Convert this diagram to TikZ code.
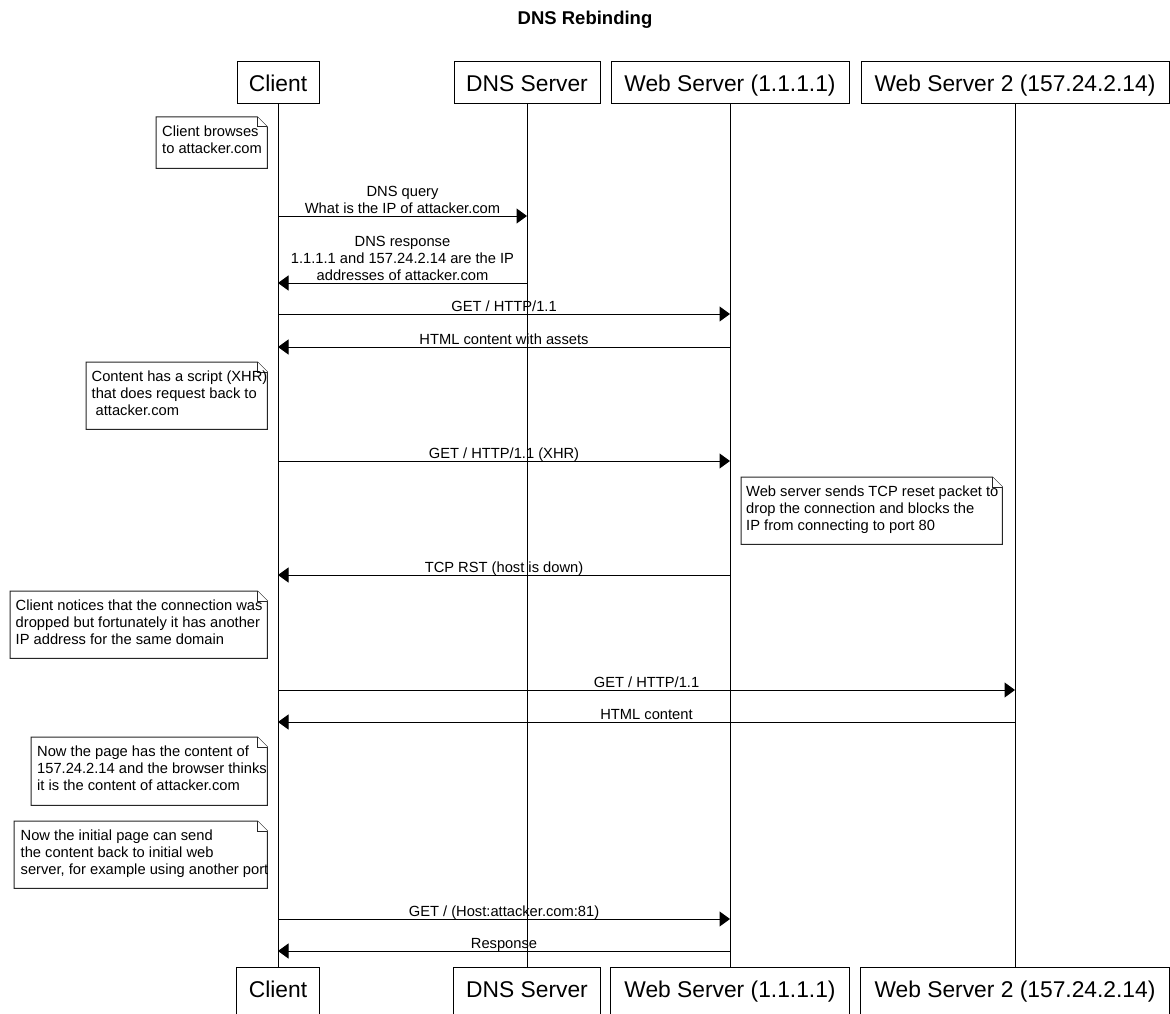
\documentclass[tikz,border=0pt]{standalone}
\usepackage{fontspec}
\setmainfont{Liberation Sans}
\usetikzlibrary{arrows.meta}
\newcommand{\lblfont}{\fontsize{14.7}{17}\selectfont}
\newcommand{\partfont}{\fontsize{22.8}{26}\selectfont}
\newcommand{\ttlfont}{\fontsize{18.5}{21}\selectfont\bfseries}
\newcommand{\notefold}[1]{%
  \draw[noteline] (#1.north west) -- ([xshift=-10pt]#1.north east) -- ([yshift=-10pt]#1.north east) -- (#1.south east) -- (#1.south west) -- cycle;
  \draw[noteline] ([xshift=-10pt]#1.north east) |- ([yshift=-10pt]#1.north east);}
\begin{document}
\begin{tikzpicture}[x=1pt,y=-1pt,
  part/.style={draw=black, line width=1pt, fill=white, inner sep=0pt, minimum height=42pt, text height=19pt, text depth=2.6pt, font=\partfont},
  partb/.style={inner sep=0pt, minimum height=42pt, text height=19pt, text depth=2.6pt, font=\partfont},
  boxline/.style={draw=black, line width=1pt},
  life/.style={draw=black, line width=1pt},
  msg/.style={draw=black, line width=1pt, -{Triangle[length=10.5pt,width=15pt]}},
  lbl/.style={font=\lblfont, inner sep=0pt, align=center, anchor=south, yshift=-2.6pt, execute at end node=\strut},
  notebox/.style={inner sep=0pt, anchor=north west},
  noteline/.style={draw=black!85, line width=1pt, fill=white, line join=miter},
  notetext/.style={font=\lblfont, inner sep=0pt, align=left, anchor=west, execute at begin node=\strut, execute at end node=\strut},
]
\useasboundingbox (0,0) rectangle (1170,1014);
\clip (0,0) rectangle (1170,1014);
\fill[white] (0,0) rectangle (1170,1014);

\node[font=\ttlfont, inner sep=0pt] (title) at (585,20) {DNS Rebinding};

% participants (top)
\node[part, minimum width=82pt]  (c) at (278,83)  {Client};
\node[part, minimum width=146pt] (d) at (527,83)  {DNS Server};
\node[part, minimum width=238pt] (w) at (730,83)  {Web Server (1.1.1.1)};
\node[part, minimum width=308pt] (v) at (1015,83) {Web Server 2 (157.24.2.14)};

% participants (bottom, cut by the picture edge)
\node[partb, minimum width=82pt]  (cb) at (278,989)  {Client};
\node[partb, minimum width=146pt] (db) at (527,989)  {DNS Server};
\node[partb, minimum width=238pt] (wb) at (730,989)  {Web Server (1.1.1.1)};
\node[partb, minimum width=308pt] (vb) at (1015,989) {Web Server 2 (157.24.2.14)};
\foreach \n in {cb,db,wb,vb}{
  \draw[boxline] ([yshift=-14pt]\n.south west) -- (\n.north west) -- (\n.north east) -- ([yshift=-14pt]\n.south east);
}

% lifelines
\draw[life] (c.south) -- (cb.north);
\draw[life] (d.south) -- (db.north);
\draw[life] (w.south) -- (wb.north);
\draw[life] (v.south) -- (vb.north);

% notes
\node[notebox, minimum width=111pt, minimum height=51pt] (n1) at (156,117) {};
\notefold{n1}
\node[notetext] (t1) at ([xshift=6pt]n1.west) {Client browses\\to attacker.com};

\node[notebox, minimum width=181pt, minimum height=67pt] (n2) at (86,362) {};
\notefold{n2}
\node[notetext] (t2) at ([xshift=5.5pt]n2.west) {Content has a script (XHR)\\that does request back to\\\hspace*{4pt}attacker.com};

\node[notebox, minimum width=261pt, minimum height=67pt] (n3) at (741,477) {};
\notefold{n3}
\node[notetext] (t3) at ([xshift=5pt]n3.west) {Web server sends TCP reset packet to\\drop the connection and blocks the\\IP from connecting to port 80};

\node[notebox, minimum width=257pt, minimum height=67pt] (n4) at (10,591) {};
\notefold{n4}
\node[notetext] (t4) at ([xshift=5.5pt]n4.west) {Client notices that the connection was\\dropped but fortunately it has another\\IP address for the same domain};

\node[notebox, minimum width=236pt, minimum height=68pt] (n5) at (31,737) {};
\notefold{n5}
\node[notetext] (t5) at ([xshift=6pt]n5.west) {Now the page has the content of\\157.24.2.14 and the browser thinks\\it is the content of attacker.com};

\node[notebox, minimum width=253pt, minimum height=67pt] (n6) at (14,821) {};
\notefold{n6}
\node[notetext] (t6) at ([xshift=6.5pt]n6.west) {Now the initial page can send\\the content back to initial web\\server, for example using another port};

% messages
\draw[msg] (c.south |- 0,216) -- (d.south |- 0,216) node[lbl, midway] {DNS query\\What is the IP of attacker.com};
\draw[msg] (d.south |- 0,283) -- (c.south |- 0,283) node[lbl, midway] {DNS response\\1.1.1.1 and 157.24.2.14 are the IP\\addresses of attacker.com};
\draw[msg] (c.south |- 0,314) -- (w.south |- 0,314) node[lbl, midway] {GET / HTTP/1.1};
\draw[msg] (w.south |- 0,347) -- (c.south |- 0,347) node[lbl, midway] {HTML content with assets};
\draw[msg] (c.south |- 0,461) -- (w.south |- 0,461) node[lbl, midway] {GET / HTTP/1.1 (XHR)};
\draw[msg] (w.south |- 0,575) -- (c.south |- 0,575) node[lbl, midway] {TCP RST (host is down)};
\draw[msg] (c.south |- 0,690) -- (v.south |- 0,690) node[lbl, midway] {GET / HTTP/1.1};
\draw[msg] (v.south |- 0,722) -- (c.south |- 0,722) node[lbl, midway] {HTML content};
\draw[msg] (c.south |- 0,919) -- (w.south |- 0,919) node[lbl, midway] {GET / (Host:attacker.com:81)};
\draw[msg] (w.south |- 0,951) -- (c.south |- 0,951) node[lbl, midway] {Response};
\end{tikzpicture}
\end{document}
